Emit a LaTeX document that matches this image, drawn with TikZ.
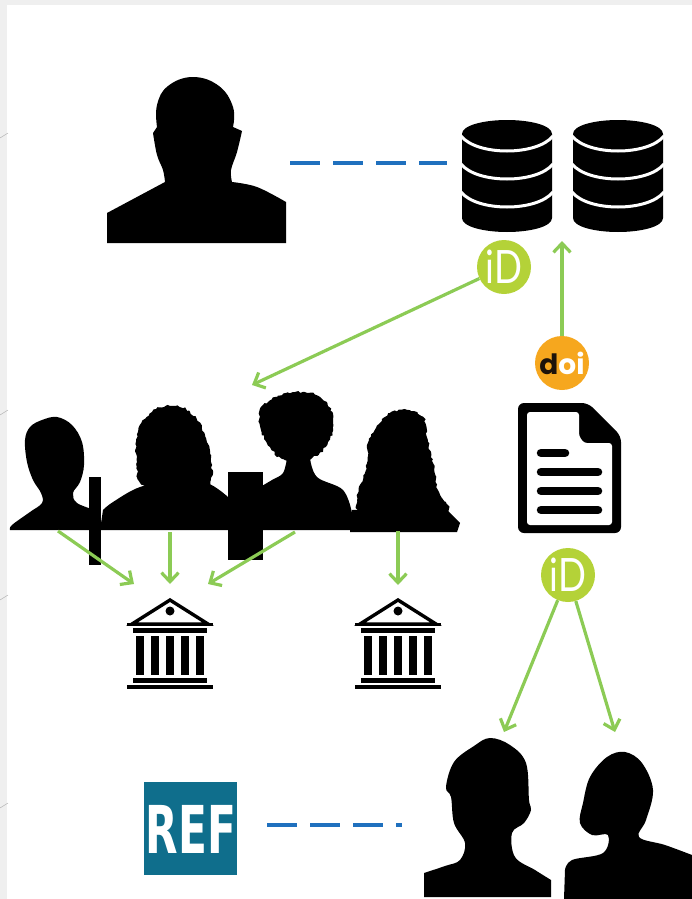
\documentclass[tikz,border=0pt]{standalone}
\usepackage{fontspec}
\usetikzlibrary{arrows.meta,decorations.pathmorphing}
\newfontfamily\idfont{Lato}
\newfontfamily\doifont{Poppins}
\newfontfamily\reffont{DejaVu Sans}
\definecolor{linkgreen}{HTML}{8CCB55}
\definecolor{idgreen}{HTML}{B4D238}
\definecolor{doiorange}{HTML}{F6A71E}
\definecolor{refteal}{HTML}{0F6E8C}
\definecolor{dashblue}{HTML}{1F70BE}
\definecolor{edgegrey}{HTML}{EFEFEF}
\tikzset{
  silhouette/.style={fill=black},
  curlyhair/.style={fill=black,decorate,decoration={random steps,segment length=2.5pt,amplitude=1.1pt}},
  link/.style={draw=linkgreen,line width=3.2pt,-{Straight Barb[length=9pt,width=17pt,line width=3.2pt]}},
  linkdash/.style={draw=dashblue,line width=3.4pt,dash pattern=on 30pt off 13pt},
  idbadge/.style={circle,fill=idgreen,text=white,minimum size=54pt,inner sep=0pt,font=\idfont\fontsize{46}{46}\selectfont},
  doibadge/.style={circle,fill=doiorange,minimum size=54pt,inner sep=0pt,font=\doifont\bfseries\fontsize{28}{28}\selectfont},
  dbstack/.pic={
    \fill (-45,14) -- (-45,98) .. controls (-45,107) and (-22,112) .. (0,112)
      .. controls (22,112) and (45,107) .. (45,98) -- (45,14)
      .. controls (45,5) and (22,0) .. (0,0) .. controls (-22,0) and (-45,5) .. (-45,14) -- cycle;
    \foreach \y in {0,28,56}
      \draw[white,line width=3pt] (-46,16+\y) .. controls (-30,36+\y) and (30,36+\y) .. (46,16+\y);
  },
  bank/.pic={
    \draw[line width=3.4pt,miter limit=10] (0,5) -- (-38,29) -- (38,29) -- cycle;
    \fill (0,16) circle (4.5);
    \fill (-43,28) rectangle (43,31);
    \fill (-37,33) rectangle (37,38);
    \foreach \x in {-30,-15,0,15,30}
      \fill (\x-3.8,41) rectangle (\x+3.8,80);
    \fill (-37,83) rectangle (37,88);
    \fill (-43,90) rectangle (43,94);
  }
}
\begin{document}
\begin{tikzpicture}[x=1pt,y=-1pt]
\useasboundingbox (0,0) rectangle (692,899);
\fill[edgegrey] (0,0) rectangle (692,5);
\fill[edgegrey] (0,0) rectangle (7,899);
\foreach \y in {138,415,600,808}
  \draw[black!30,line width=0.5pt] (0,\y) -- (8,\y-5);

% person at the top
\fill[silhouette] (107,243) -- (107,213) -- (165,182)
  -- plot[smooth,tension=0.6] coordinates {(165,182) (163,170) (157,155) (153,133)}
  -- plot[smooth,tension=0.7] coordinates {(157,127) (157,105) (168,86) (193,77) (219,86) (233,107) (233,127)}
  -- plot[smooth,tension=0.6] coordinates {(242,131) (237,152) (231,170) (232,182)}
  -- plot[smooth,tension=0.6] coordinates {(232,182) (257,187) (286,202)} -- (286,243) -- cycle;
\coordinate (toppersonend) at (290,163);

% databases
\path (507,120) pic {dbstack};
\path (618,120) pic {dbstack};
\coordinate (dbleftend) at (447,163);
\coordinate (dbgap) at (562,241);

% group of four
\fill[silhouette] plot[smooth,tension=0.6] coordinates {(10,530) (12,525) (30,512) (42,503) (41,493) (33,480)
  (27,462) (25,440) (30,427) (42,420) (57,417) (72,425) (82,442) (84,465) (80,482) (73,493) (77,503) (95,510)}
  -- (95,530) -- cycle;
\fill[silhouette] (100,530) -- plot[smooth,tension=0.6] coordinates {(103,510) (113,502) (140,487) (175,480) (207,483) (228,497)}
  -- (232,530) -- cycle;
\pgfmathsetseed{7}
\fill[curlyhair] plot[smooth cycle,tension=0.7] coordinates {(143,485) (137,462) (138,432) (152,412) (170,406)
  (190,412) (205,435) (212,465) (206,488) (175,495)};
\fill[silhouette] (255,530) -- plot[smooth,tension=0.6] coordinates {(255,490) (272,480) (283,473) (287,458)}
  -- plot[smooth,tension=0.6] coordinates {(310,458) (317,477) (343,490) (352,513)} -- (352,530) -- cycle;
\fill[curlyhair] plot[smooth cycle,tension=0.8] coordinates {(259,420) (268,402) (295,392) (322,399) (333,420)
  (328,442) (312,458) (288,461) (270,447)};
\fill[curlyhair] plot[smooth cycle,tension=0.6] coordinates {(358,510) (367,463) (368,443) (380,423) (390,413)
  (407,410) (423,417) (427,437) (433,463) (438,490) (447,512) (400,520)};
\fill[silhouette] (350,532) -- (352,510) -- (445,508) -- (460,523) -- (457,532) -- cycle;
\fill (89,477) rectangle (101,565);
\fill (228,472) rectangle (263,560);

% banks
\path (170,595) pic {bank};
\path (398,595) pic {bank};

% paper
\fill[rounded corners=6pt] (518,403) -- (588,403) -- (621,436) -- (621,533) -- (518,533) -- cycle;
\fill[white,rounded corners=3pt] (527,412) -- (579,412) -- (579,436) -- (584,443) -- (612,443) -- (612,525) -- (527,525) -- cycle;
\draw[line width=8.5pt,line cap=round] (541,453) -- (565,453);
\foreach \y in {472,491,510}
  \draw[line width=8.5pt,line cap=round] (541,\y) -- (598,\y);

% REF box
\fill[refteal] (144,782) rectangle (237,875);
\node[text=white,font=\reffont\bfseries\fontsize{66}{66}\selectfont,inner sep=0pt] (reflabel) at (191,829) {\scalebox{0.64}[1]{REF}};
\coordinate (refend) at (267,825);
\coordinate (bottompersonend) at (402,825);

% authors at the bottom
\fill[silhouette] (424,897) -- plot[smooth,tension=0.6] coordinates {(424,873) (445,866) (460,860) (465,843) (454,823)
  (451,797) (446,787) (454,762) (474,746) (490,738) (510,745) (526,763) (529,800) (531,810) (524,823)
  (512,833) (515,857) (535,870) (551,880)} -- (551,897) -- cycle;
\fill[silhouette] (564,899) -- plot[smooth,tension=0.6] coordinates {(565,870) (572,860) (603,853) (608,835) (592,835) (580,823) (583,803)
  (590,777) (607,757) (625,752) (642,763) (653,790) (646,820) (639,837) (665,845) (692,855)}
  -- (692,899) -- cycle;

% badges
\node[idbadge] (idtop) at (504,267) {\scalebox{0.8}[1]{iD}};
\node[idbadge] (idpaper) at (568,575) {\scalebox{0.8}[1]{iD}};
\node[doibadge] (doipaper) at (562,363) {\textcolor{black!85!brown}{d}\textcolor{white}{oi}};

% connectors
\coordinate (groupend) at (252,385);
\coordinate (memberone) at (58,531);
\coordinate (membertwo) at (170,532);
\coordinate (memberthree) at (295,532);
\coordinate (memberfour) at (398,531);
\coordinate (bankonea) at (134,584);
\coordinate (bankoneb) at (170,584);
\coordinate (bankonec) at (208,584);
\coordinate (banktwo) at (398,585);
\coordinate (authorone) at (504,732);
\coordinate (authortwo) at (615,732);

\draw[linkdash] (toppersonend) -- (dbleftend);
\draw[linkdash] (refend) -- (bottompersonend);
\draw[link] (idtop) -- (groupend);
\draw[link] (doipaper) -- (dbgap);
\draw[link] (memberone) -- (bankonea);
\draw[link] (membertwo) -- (bankoneb);
\draw[link] (memberthree) -- (bankonec);
\draw[link] (memberfour) -- (banktwo);
\draw[link] (idpaper) -- (authorone);
\draw[link] (idpaper) -- (authortwo);
\end{tikzpicture}
\end{document}
